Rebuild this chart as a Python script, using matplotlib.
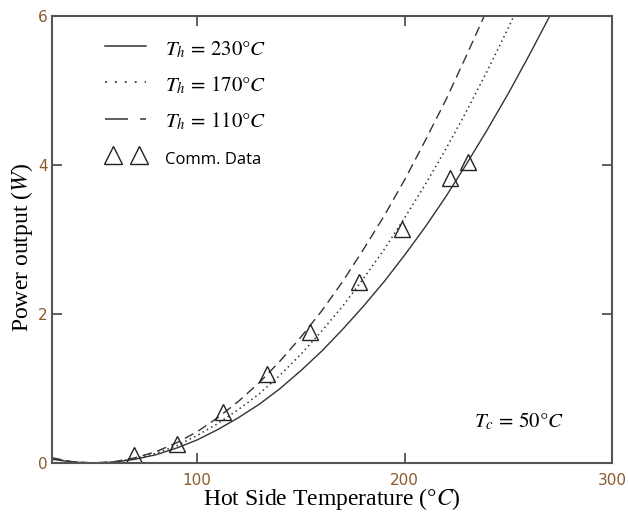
import matplotlib
matplotlib.use("Agg")
import matplotlib.pyplot as plt
from matplotlib.lines import Line2D
from matplotlib.legend_handler import HandlerLine2D

plt.rcParams['mathtext.fontset'] = 'stix'

# Hot side temperature samples (°C)
temp_230 = [30, 40, 50, 60, 70, 80, 90, 100, 110, 120, 130, 140, 150, 160, 170,
            180, 190, 200, 210, 220, 230, 240, 250, 260, 270]
power_230 = [0.05, 0.012, 0.0, 0.012, 0.05, 0.11, 0.20, 0.31, 0.45, 0.61, 0.79, 1.00,
             1.24, 1.50, 1.79, 2.10, 2.43, 2.79, 3.17, 3.58, 4.02, 4.48, 4.96, 5.47, 6.00]

temp_170 = [30, 40, 50, 60, 70, 80, 90, 100, 110, 120, 130, 140, 150, 160, 170,
            180, 190, 200, 210, 220, 230, 240, 250, 260]
power_170 = [0.06, 0.015, 0.0, 0.015, 0.06, 0.13, 0.23, 0.37, 0.53, 0.72, 0.93, 1.18,
             1.46, 1.77, 2.10, 2.47, 2.86, 3.29, 3.74, 4.22, 4.73, 5.27, 5.84, 6.44]

temp_110 = [30, 40, 50, 60, 70, 80, 90, 100, 110, 120, 130, 140, 150, 160, 170,
            180, 190, 200, 210, 220, 230, 240]
power_110 = [0.07, 0.017, 0.0, 0.017, 0.07, 0.15, 0.27, 0.42, 0.61, 0.83, 1.08, 1.37,
             1.69, 2.04, 2.43, 2.86, 3.31, 3.80, 4.33, 4.88, 5.48, 6.10]

comm_temp = [69.7, 90.5, 112.3, 133.5, 154.4, 178.0, 198.9, 222.0, 230.8]
comm_power = [0.11, 0.26, 0.68, 1.19, 1.76, 2.43, 3.14, 3.83, 4.04]

legend_labels = [r'$T_h\,=\,230°C$', r'$T_h\,=\,170°C$', r'$T_h\,=\,110°C$', 'Comm. Data']

fig = plt.figure(figsize=(6.28, 5.12), dpi=100)
ax = fig.add_axes([52/628, 1-463/512, (612-52)/628, (463-16)/512])

lc = '#333333'
ax.plot(temp_230, power_230, color=lc, lw=1.0, ls='-')
ax.plot(temp_170, power_170, color=lc, lw=1.1, ls=(0, (1, 2.2)))
ax.plot(temp_110, power_110, color=lc, lw=1.0, ls=(0, (7, 4)))
ax.plot(comm_temp, comm_power, ls='none', marker='^', ms=12, mfc='none',
        mec='#222222', mew=1.0)

ax.set_xlim(30, 300)
ax.set_ylim(0, 6)
ax.set_xticks([100, 200, 300])
ax.set_yticks([0, 2, 4, 6])
tick_color = '#8a5a2a'
ax.tick_params(direction='in', length=7, width=1.2, color='#444444',
               top=True, right=True, labelsize=11, labelcolor=tick_color)
ax.tick_params(axis='x', pad=7)
ax.tick_params(axis='y', pad=3)
for s in ax.spines.values():
    s.set_color('#555555')
    s.set_linewidth(1.5)

ax.set_xlabel('Hot Side Temperature (°$C$)', family='Liberation Serif',
              fontsize=17, labelpad=-1)
ax.set_ylabel('Power output ($W$)', family='Liberation Serif', fontsize=17)
ax.yaxis.set_label_coords(-0.030, 0.481)

ax.text(255, 0.56, r'$T_c\,=\,50°C$', fontsize=15, ha='center', va='center')

tri_handle = Line2D([], [], ls='none', marker='^', ms=12.5, mfc='none',
                    mec='#222222', mew=1.0)
handles = [
    Line2D([], [], color=lc, lw=1.1, ls='-'),
    Line2D([], [], color=lc, lw=1.3, ls=(0, (1, 4.5))),
    Line2D([], [], color=lc, lw=1.1, ls=(0, (15, 8))),
    tri_handle,
]
leg = ax.legend(handles, legend_labels, loc='upper left',
                bbox_to_anchor=(0.084, 0.952), frameon=False, numpoints=2,
                handlelength=2.57, handletextpad=0.6, labelspacing=0.66,
                handleheight=1.2, borderpad=0, borderaxespad=0, fontsize=15,
                handler_map={tri_handle: HandlerLine2D(marker_pad=0.67, numpoints=2)})
leg.get_texts()[3].set_family('Open Sans')
leg.get_texts()[3].set_fontsize(12)

fig.savefig('out.png', dpi=100)
